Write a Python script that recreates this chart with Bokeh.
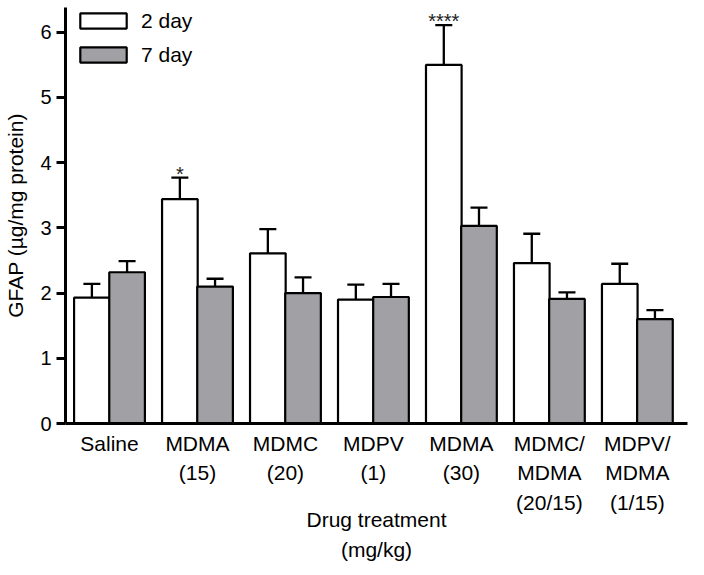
from bokeh.plotting import figure
from bokeh.models import Range1d, FixedTicker, Whisker, TeeHead, ColumnDataSource, Legend, LegendItem
from bokeh.core.properties import value
from bokeh.embed import file_html
from bokeh.resources import INLINE

categories = ["Saline", "MDMA\n(15)", "MDMC\n(20)", "MDPV\n(1)", "MDMA\n(30)",
              "MDMC/\nMDMA\n(20/15)", "MDPV/\nMDMA\n(1/15)"]
day2_mean = [1.93, 3.44, 2.61, 1.90, 5.50, 2.46, 2.14]
day2_err = [0.21, 0.33, 0.37, 0.23, 0.61, 0.45, 0.31]
day7_mean = [2.32, 2.10, 2.00, 1.94, 3.03, 1.91, 1.60]
day7_err = [0.17, 0.12, 0.24, 0.20, 0.28, 0.10, 0.14]
day2_sig = ["", "*", "", "", "****", "", ""]
y_ticks = [0, 1, 2, 3, 4, 5, 6]
series_names = ["2 day", "7 day"]

FONT = "Liberation Sans"
GRAY = "#a1a1a5"
FIG_H = 566
TOP_B = 7
BOT_B = 143
FRAME_H = FIG_H - TOP_B - BOT_B

centers = [i + 0.5 for i in range(len(categories))]
off = 0.2
bw = 0.405

src2 = ColumnDataSource(dict(
    x=[c - off for c in centers], top=day2_mean,
    upper=[m + e for m, e in zip(day2_mean, day2_err)], sig=day2_sig))
src7 = ColumnDataSource(dict(
    x=[c + off for c in centers], top=day7_mean,
    upper=[m + e for m, e in zip(day7_mean, day7_err)]))

p = figure(width=688, height=FIG_H, output_backend="svg", toolbar_location=None,
           x_range=Range1d(0, 7.07), y_range=Range1d(0, 6.38),
           min_border_left=65, min_border_right=1, min_border_top=TOP_B,
           min_border_bottom=BOT_B)
p.outline_line_color = None
p.grid.visible = False
p.background_fill_color = "white"

for src in (src2, src7):
    w = Whisker(source=src, base="x", lower="top", upper="upper", dimension="height",
                line_color="black", line_width=2.3,
                upper_head=TeeHead(size=17, line_color="black", line_width=2.3),
                lower_head=None)
    p.add_layout(w)

r2 = p.vbar(x="x", top="top", width=bw, source=src2, fill_color="white",
            line_color="black", line_width=2.2)
r7 = p.vbar(x="x", top="top", width=bw, source=src7, fill_color=GRAY,
            line_color="black", line_width=2.2)

p.text(x="x", y="upper", text="sig", source=src2, text_align="center",
       text_baseline="alphabetic", y_offset=-4, text_font=value(FONT),
       text_font_size="20px", text_color="#222222")

legend = Legend(items=[LegendItem(label=series_names[0], renderers=[r2]),
                       LegendItem(label=series_names[1], renderers=[r7])],
                location=(9, FRAME_H - 60), glyph_width=58, glyph_height=19,
                label_height=25, label_standoff=9, spacing=9, padding=0, margin=0,
                border_line_color=None, background_fill_alpha=0,
                label_text_font=FONT, label_text_font_size="21px",
                label_text_color="black")
p.add_layout(legend, "center")

ya = p.yaxis[0]
ya.ticker = FixedTicker(ticks=y_ticks)
ya.axis_line_width = 3
ya.major_tick_line_width = 3
ya.major_tick_out = 9
ya.major_tick_in = 0
ya.minor_tick_line_color = None
ya.major_label_standoff = 5
ya.major_label_text_font = FONT
ya.major_label_text_font_size = "20px"
ya.major_label_text_color = "black"
ya.axis_label = "GFAP (µg/mg protein)"
ya.axis_label_text_font = FONT
ya.axis_label_text_font_size = "21px"
ya.axis_label_text_font_style = "normal"
ya.axis_label_text_color = "black"
ya.axis_label_standoff = 10

xa = p.xaxis[0]
xa.ticker = FixedTicker(ticks=centers)
xa.major_label_overrides = {c: lab for c, lab in zip(centers, categories)}
xa.axis_line_width = 3
xa.major_tick_line_color = None
xa.minor_tick_line_color = None
xa.major_tick_out = 0
xa.major_tick_in = 0
xa.major_label_standoff = 8
xa.major_label_text_font = FONT
xa.major_label_text_font_size = "21px"
xa.major_label_text_color = "black"
xa.major_label_text_line_height = 1.3
xa.axis_label = "Drug treatment\n(mg/kg)"
xa.axis_label_text_font = FONT
xa.axis_label_text_font_size = "21px"
xa.axis_label_text_font_style = "normal"
xa.axis_label_text_color = "black"
xa.axis_label_text_line_height = 1.3
xa.axis_label_standoff = -9

open("out.html", "w").write(file_html(p, INLINE))
